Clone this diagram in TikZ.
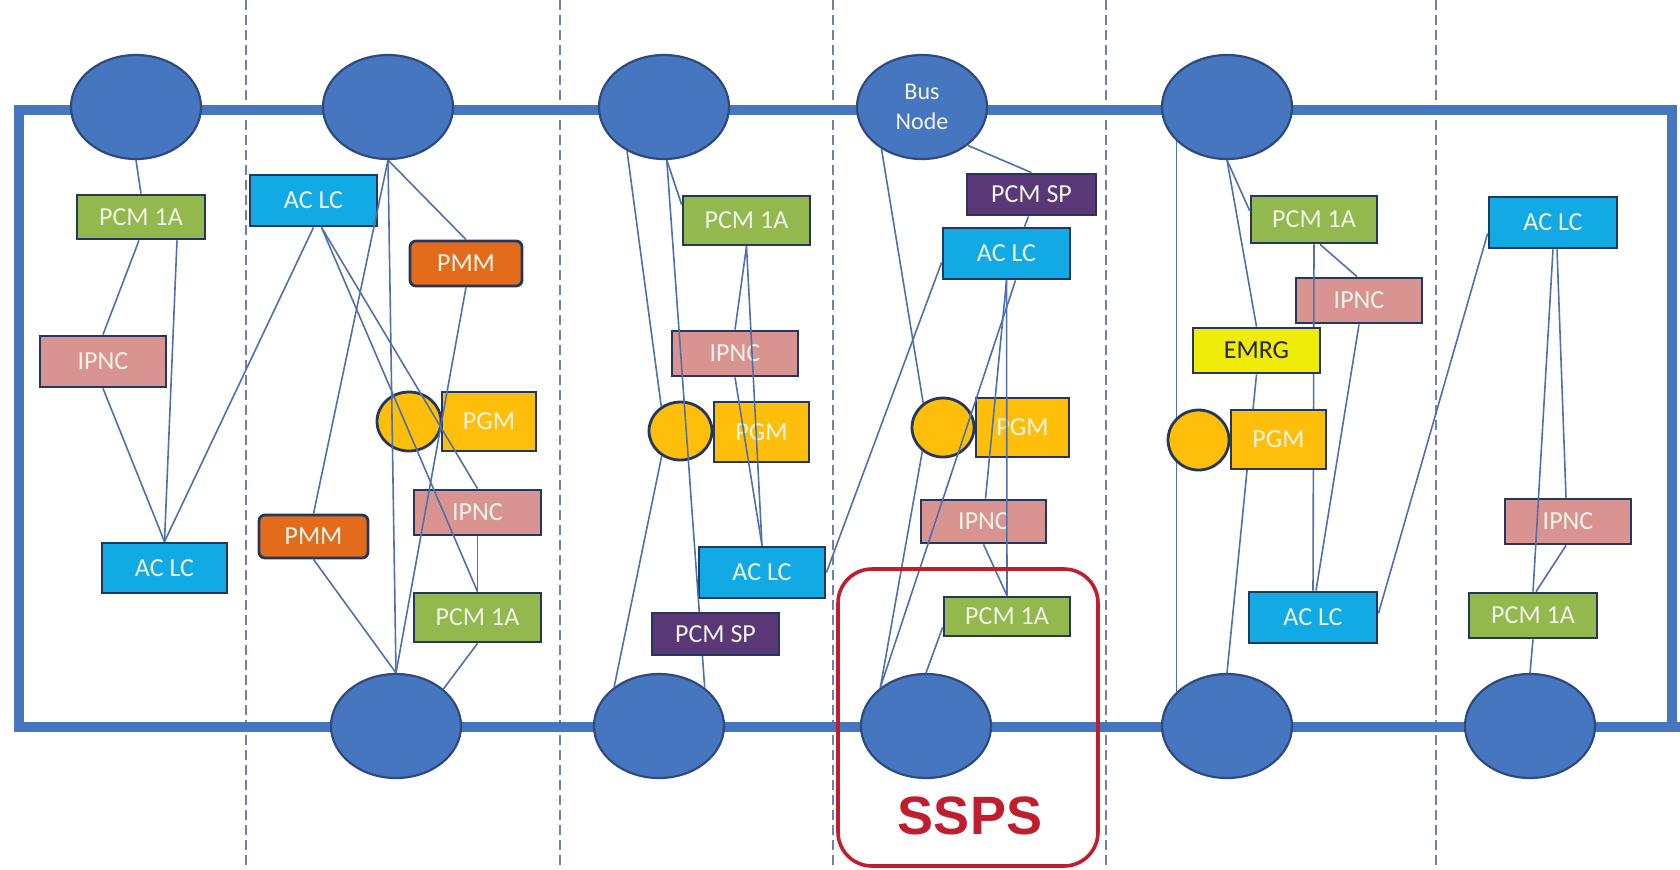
\documentclass[tikz,border=0pt]{standalone}
\usepackage{fontspec}
\setmainfont{Carlito}
\newfontfamily\labelsans{Liberation Sans}
\usetikzlibrary{shapes.geometric,calc}

\pgfdeclarelayer{front}
\pgfsetlayers{main,front}

\definecolor{busfill}{RGB}{70,118,192}
\definecolor{busedge}{RGB}{45,75,125}
\definecolor{boxedge}{RGB}{35,55,95}
\definecolor{boxtext}{RGB}{240,244,232}
\definecolor{pcmgreen}{RGB}{146,184,78}
\definecolor{ipncpink}{RGB}{217,148,146}
\definecolor{aclcblue}{RGB}{18,170,228}
\definecolor{pmmorange}{RGB}{226,108,28}
\definecolor{pgmgold}{RGB}{255,190,10}
\definecolor{pcmsppurple}{RGB}{90,56,120}
\definecolor{emrgyellow}{RGB}{240,236,10}
\definecolor{wireblue}{RGB}{80,112,170}
\definecolor{dividergray}{RGB}{110,130,165}
\definecolor{sspsred}{RGB}{190,30,45}

\begin{document}
\begin{tikzpicture}[x=0.5pt,y=-0.5pt,
  busnode/.style={ellipse, draw=busedge, fill=busfill, line width=1.1pt,
    minimum width=65pt, minimum height=52pt, inner sep=0pt},
  sz/.style 2 args={minimum width=#1*0.5pt, minimum height=#2*0.5pt},
  unitbox/.style={rectangle, draw=boxedge, line width=1.4pt, inner sep=0pt,
    text=boxtext, font=\fontsize{13}{15}\selectfont},
  boxpcm/.style={unitbox, fill=pcmgreen},
  boxipnc/.style={unitbox, fill=ipncpink},
  boxaclc/.style={unitbox, fill=aclcblue},
  boxpmm/.style={unitbox, fill=pmmorange, rounded corners=3pt},
  boxpgm/.style={unitbox, fill=pgmgold},
  pgmdisc/.style={ellipse, draw=boxedge, line width=1.4pt, fill=pgmgold, inner sep=0pt},
  boxpcmsp/.style={unitbox, fill=pcmsppurple},
  boxemrg/.style={unitbox, fill=emrgyellow, text=black!85},
  wire/.style={draw=wireblue, line width=0.8pt},
  divider/.style={draw=dividergray, line width=0.8pt, dash pattern=on 5pt off 2.5pt},
  busline/.style={draw=busfill, line width=5pt},
]
\useasboundingbox (0,0) rectangle (1680,869);

% section dividers
\foreach \xd in {246,560,833,1106,1436}
  \draw[divider] (\xd,0) -- (\xd,869);

% power bus ring
\draw[busline] (1680,727) -- (19,727) -- (19,110) -- (1672,110) -- (1672,727);

% bus nodes, upper row
\node[busnode] (t1) at (136,107) {};
\node[busnode] (t2) at (388,107) {};
\node[busnode] (t3) at (664,107) {};
\node[busnode, text=boxtext, align=center, font=\fontsize{12}{15}\selectfont] (t4) at (922,107) {Bus\\Node};
\node[busnode] (t5) at (1227,107) {};
% bus nodes, lower row
\node[busnode] (b2) at (396,726) {};
\node[busnode] (b3) at (659,726) {};
\node[busnode] (b4) at (926,726) {};
\node[busnode] (b5) at (1227,726) {};
\node[busnode] (b6) at (1530,726) {};

% section 1
\node[boxpcm, sz={128}{44}] (c1pcm) at (141,217) {PCM 1A};
\node[boxipnc, sz={126}{51}] (c1ipnc) at (103,361.5) {IPNC};
\node[boxaclc, sz={125}{50}] (c1aclc) at (164.5,568) {AC LC};

% section 2
\node[boxaclc, sz={127}{51}] (c2aclc) at (313.5,200.5) {AC LC};
\node[boxpmm, sz={112}{45}] (c2pmmt) at (466,263.5) {PMM};
\node[pgmdisc, sz={64}{59}] (c2circ) at (409,421.5) {};
\node[boxpgm, sz={94}{59}] (c2pgm) at (489,421.5) {PGM};
\node[boxipnc, sz={127}{45}] (c2ipnc) at (477.5,512.5) {IPNC};
\node[boxpmm, sz={109}{43}] (c2pmmb) at (313.5,536.5) {PMM};
\node[boxpcm, sz={127}{49}] (c2pcm) at (477.5,617.5) {PCM 1A};

% section 3
\node[boxpcm, sz={127}{49}] (c3pcm) at (746.5,220.5) {PCM 1A};
\node[boxipnc, sz={126}{45}] (c3ipnc) at (735,353.5) {IPNC};
\node[pgmdisc, sz={63}{58}] (c3circ) at (680.5,431) {};
\node[boxpgm, sz={95}{60}] (c3pgm) at (761.5,432) {PGM};
\node[boxaclc, sz={126}{51}] (c3aclc) at (762,572.5) {AC LC};

% section 4
\node[boxpcmsp, sz={129}{41}] (c4pcmsp) at (1031.5,194.5) {PCM SP};
\node[boxaclc, sz={127}{51}] (c4aclc) at (1006.5,253.5) {AC LC};
\node[pgmdisc, sz={62}{59}] (c4circ) at (943,427.5) {};
\node[boxpgm, sz={93}{59}] (c4pgm) at (1022.5,427.5) {PGM};
\node[boxipnc, sz={125}{43}] (c4ipnc) at (983.5,521.5) {IPNC};
\node[boxpcm, sz={126}{39}] (c4pcm) at (1007,616.5) {PCM 1A};

% section 5
\node[boxpcm, sz={126}{47}] (c5pcm) at (1314,219.5) {PCM 1A};
\node[boxipnc, sz={126}{45}] (c5ipnc) at (1359,300.5) {IPNC};
\node[boxaclc, sz={128}{51}] (c5aclc) at (1313,617.5) {AC LC};

% section 6
\node[boxaclc, sz={128}{51}] (c6aclc) at (1553,222.5) {AC LC};
\node[boxipnc, sz={126}{45}] (c6ipnc) at (1568,521.5) {IPNC};
\node[boxpcm, sz={128}{45}] (c6pcm) at (1533,615.5) {PCM 1A};

% units that sit above the wiring
\begin{pgfonlayer}{front}
\node[boxpcmsp, sz={127}{42}] (c3pcmsp) at (715.5,634) {PCM SP};
\node[boxemrg, sz={127}{45}] (c5emrg) at (1256.5,350.5) {EMRG};
\node[pgmdisc, sz={61}{60}] (c5circ) at (1198.5,440) {};
\node[boxpgm, sz={95}{59}] (c5pgm) at (1278.5,439.5) {PGM};
\end{pgfonlayer}

% wiring, section 1
\draw[wire] (t1.south) -- (c1pcm.north);
\draw[wire] ($(c1pcm.south)+(-2,0)$) -- (c1ipnc.north);
\draw[wire] ($(c1pcm.south)+(36,0)$) -- (c1aclc.north);
\draw[wire] (c1ipnc.south) -- (c1aclc.north);
\draw[wire] (c2aclc.south) -- (c1aclc.north);

% wiring, section 2
\draw[wire] (t2.south) -- (b2.north);
\draw[wire] (t2.south) -- (c2pmmb.north);
\draw[wire] (t2.south) -- (c2pmmt.north);
\draw[wire] (c2pmmt.south) -- (b2.north);
\draw[wire] ($(c2aclc.south)+(8,0)$) -- (c2ipnc.north);
\draw[wire] ($(c2aclc.south)+(8,0)$) -- (c2pcm.north);
\draw[wire] (c2ipnc.south) -- (c2pcm.north);
\draw[wire] (c2pcm.south) -- (b2.38);
\draw[wire] (c2pmmb.south) -- (b2.north);

% wiring, section 3
\draw[wire] (t3.230) -- (c3circ.128);
\draw[wire] (c3circ.233) -- (b3.139);
\draw[wire] (t3.273) -- ($(c3pcm.north west)+(0,10)$);
\draw[wire] (t3.273) -- (b3.40);
\draw[wire] (c3pcm.south) -- (c3ipnc.north);
\draw[wire] (c3pcm.south) -- (c3aclc.north);
\draw[wire] (c3ipnc.south) -- (c3aclc.north);
\draw[wire] (c3aclc.east) -- ($(c4aclc.west)+(0,9)$);

% wiring, section 4
\draw[wire] (t4.320) -- (c4pcmsp.north);
\draw[wire] ($(c4pcmsp.south)+(-3,0)$) -- ($(c4aclc.north)+(18,0)$);
\draw[wire] (t4.226) -- (c4circ.129);
\draw[wire] (c4circ.229) -- (b4.140);
\draw[wire] ($(c4aclc.south)+(9,0)$) -- (b4.140);
\draw[wire] (c4aclc.south) -- ($(c4ipnc.north)+(2,0)$);
\draw[wire] (c4aclc.south) -- (c4pcm.north);
\draw[wire] (c4ipnc.south) -- (c4pcm.north);
\draw[wire] ($(c4pcm.south west)+(0,-10)$) -- (b4.north);

% wiring, section 5
\draw[wire] (t5.214) -- (b5.146);
\draw[wire] (t5.south) -- ($(c5pcm.north west)+(0,16)$);
\draw[wire] (t5.south) -- (c5emrg.north);
\draw[wire] (c5emrg.south) -- (b5.north);
\draw[wire] (c5pcm.south) -- (c5aclc.north);
\draw[wire] ($(c5pcm.south)+(6,0)$) -- ($(c5ipnc.north)+(-2,0)$);
\draw[wire] (c5ipnc.south) -- ($(c5aclc.north)+(3,0)$);
\draw[wire] ($(c5aclc.east)+(0,-4)$) -- ($(c6aclc.west)+(0,11)$);

% wiring, section 6
\draw[wire] (c6aclc.south) -- (c6pcm.north);
\draw[wire] ($(c6aclc.south)+(4,0)$) -- ($(c6ipnc.north)+(-2,0)$);
\draw[wire] ($(c6ipnc.south)+(-2,0)$) -- ($(c6pcm.north)+(3,0)$);
\draw[wire] (c6pcm.south) -- (b6.north);

% SSPS highlight
\node[draw=sspsred, line width=1.8pt, rounded corners=17pt, inner sep=0pt,
  minimum width=130pt, minimum height=148.5pt] (sspsframe) at (968,717.5) {};
\node[text=sspsred, font=\labelsans\bfseries\fontsize{27}{32}\selectfont, inner sep=0pt]
  (sspslabel) at (970,816) {SSPS};
\end{tikzpicture}
\end{document}
